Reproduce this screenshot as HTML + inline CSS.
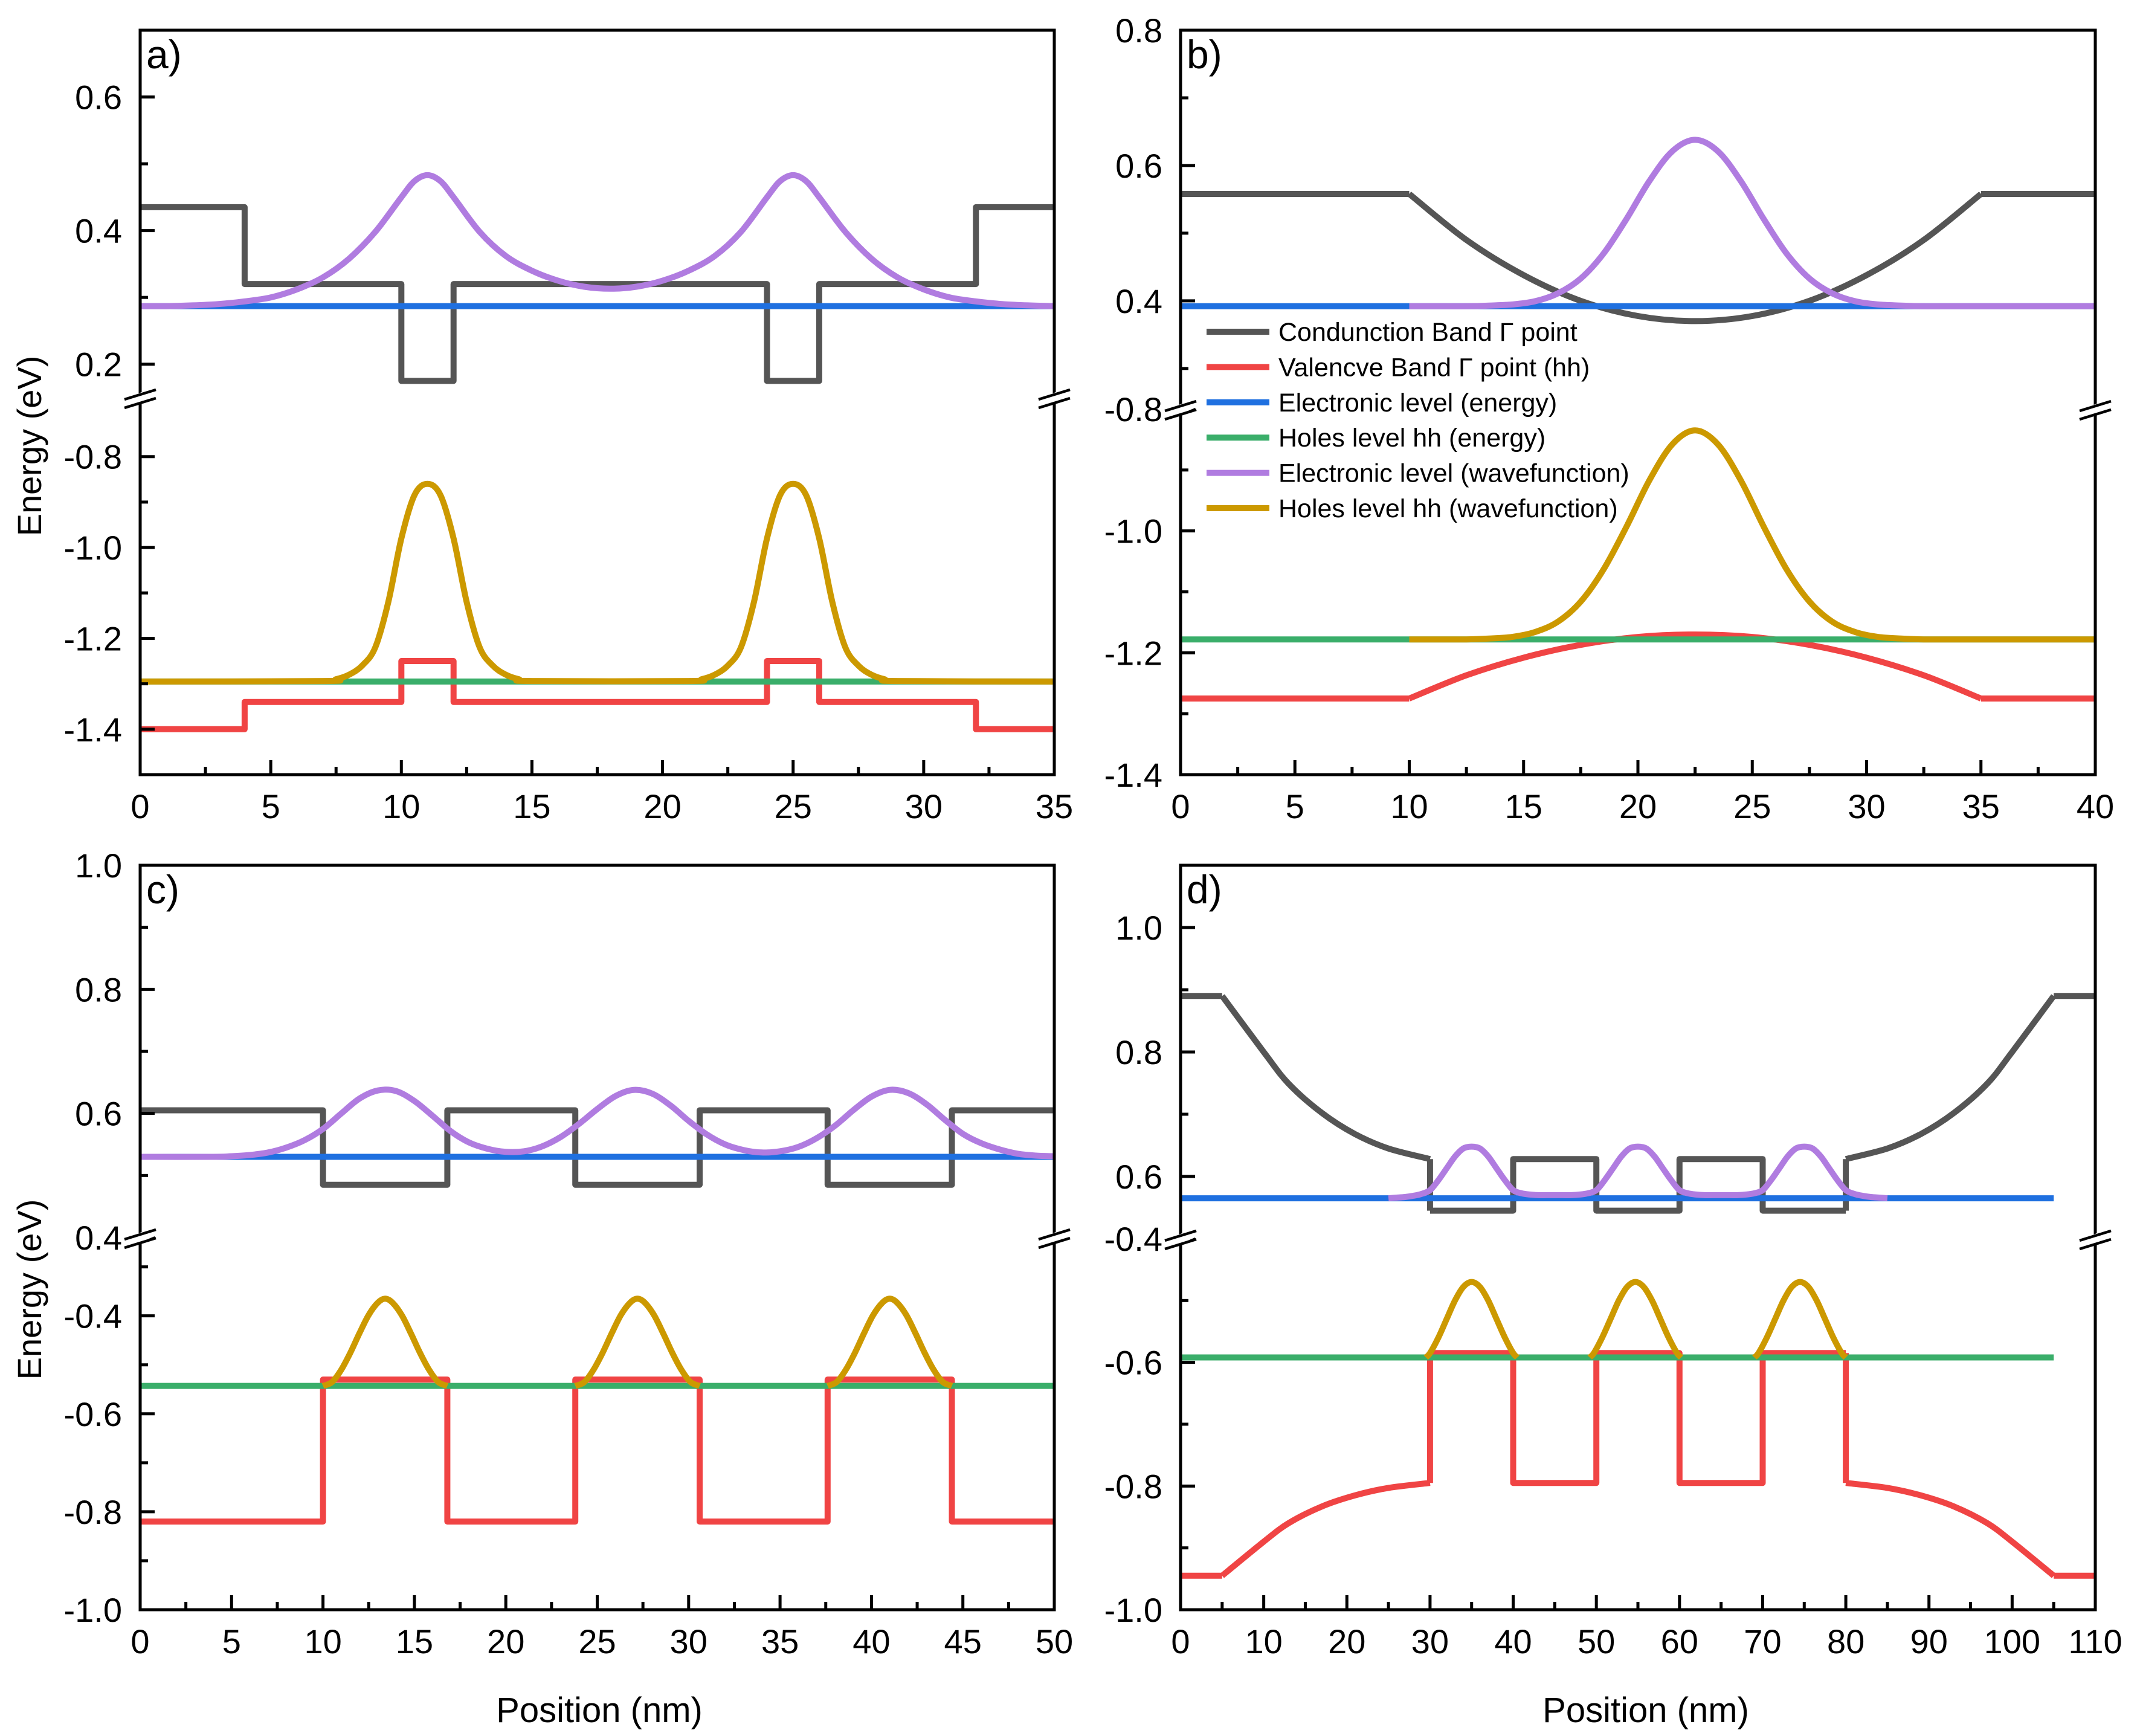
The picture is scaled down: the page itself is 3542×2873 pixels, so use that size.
<!DOCTYPE html>
<html><head><meta charset="utf-8">
<style>
html,body{margin:0;padding:0;background:#fff;}
svg{display:block;font-family:"Liberation Sans",Arial,sans-serif;}
</style></head>
<body>
<svg id="fig" width="3542" height="2873" viewBox="0 0 3542 2873" xmlns="http://www.w3.org/2000/svg">
<rect width="3542" height="2873" fill="#fff"/>
<text x="0" y="0" font-size="56" text-anchor="middle" transform="translate(68,738) rotate(-90)">Energy (eV)</text>
<text x="0" y="0" font-size="56" text-anchor="middle" transform="translate(68,2134) rotate(-90)">Energy (eV)</text>
<text x="992" y="2850" font-size="58" text-anchor="middle">Position (nm)</text>
<text x="2724" y="2850" font-size="58" text-anchor="middle">Position (nm)</text>
</svg>
<script>
// ---------- Panel a data ----------
const aCbEdges=[0,4,10,12,24,26,32,35];
const aCbLevels=[0.435,0.32,0.175,0.32,0.175,0.32,0.435];
const aVbEdges=[0,4,10,12,24,26,32,35];
const aVbLevels=[-1.40,-1.34,-1.25,-1.34,-1.25,-1.34,-1.40];
const aElecLevel=0.287;
const aHoleLevel=-1.295;
const aElecWaveX=[0,1,2,3,4,5,6,7,8,9,10,10.5,11,11.5,12,13,14,15,16,17,18,19,20,21,22,23,24,24.5,25,25.5,26,27,28,29,30,31,32,33,34,35];
const aElecWaveY=[0.287,0.287,0.288,0.290,0.294,0.300,0.312,0.330,0.358,0.398,0.450,0.474,0.483,0.474,0.450,0.398,0.362,0.340,0.325,0.316,0.313,0.316,0.325,0.340,0.362,0.398,0.450,0.474,0.483,0.474,0.450,0.398,0.358,0.330,0.312,0.300,0.294,0.290,0.288,0.287];
const aHoleWaveX=[0,7,7.5,8,8.5,9,9.5,10,10.5,11,11.5,12,12.5,13,13.5,14,14.5,15,21,21.5,22,22.5,23,23.5,24,24.5,25,25.5,26,26.5,27,27.5,28,28.5,29,35];
const aHoleWaveY=[-1.295,-1.294,-1.29,-1.28,-1.26,-1.22,-1.12,-0.98,-0.885,-0.86,-0.885,-0.98,-1.12,-1.22,-1.26,-1.28,-1.29,-1.294,-1.294,-1.29,-1.28,-1.26,-1.22,-1.12,-0.98,-0.885,-0.86,-0.885,-0.98,-1.12,-1.22,-1.26,-1.28,-1.29,-1.294,-1.295];
// ---------- Panel b data ----------
const bFlatLeftEnd=10;
const bFlatRightStart=35;
const bCbX=[10,12.5,15,17.5,20,22.5,25,27.5,30,32.5,35];
const bCbY=[0.558,0.490,0.438,0.400,0.3775,0.370,0.3775,0.400,0.438,0.490,0.558];
const bVbX=[10,12.5,15,17.5,20,22.5,25,27.5,30,32.5,35];
const bVbY=[-1.275,-1.237,-1.208,-1.187,-1.174,-1.170,-1.174,-1.187,-1.208,-1.237,-1.275];
const bElecLevel=0.392;
const bHoleLevel=-1.178;
const bElecWaveX=[10,11.5,12.5,13.5,14.5,15.5,16.5,17.5,18.5,19.5,20.5,21.5,22.5,23.5,24.5,25.5,26.5,27.5,28.5,29.5,30.5,31.5,32.5,33.5,40];
const bElecWaveY=[0.392,0.392,0.392,0.393,0.3946,0.3994,0.411,0.433,0.470,0.521,0.577,0.621,0.638,0.621,0.577,0.521,0.470,0.433,0.411,0.3994,0.3946,0.393,0.392,0.392,0.392];
const bHoleWaveX=[10,11.5,12.5,13.5,14.5,15.5,16.5,17.5,18.5,19.5,20.5,21.5,22.5,23.5,24.5,25.5,26.5,27.5,28.5,29.5,30.5,31.5,32.5,33.5,40];
const bHoleWaveY=[-1.178,-1.178,-1.178,-1.1766,-1.174,-1.166,-1.149,-1.116,-1.063,-0.993,-0.917,-0.858,-0.835,-0.858,-0.917,-0.993,-1.063,-1.116,-1.149,-1.166,-1.174,-1.1766,-1.178,-1.178,-1.178];
// ---------- Panel c data ----------
const cCbEdges=[0,10,16.8,23.8,30.6,37.6,44.4,50];
const cCbLevels=[0.605,0.485,0.605,0.485,0.605,0.485,0.605];
const cVbEdges=[0,10,16.8,23.8,30.6,37.6,44.4,50];
const cVbLevels=[-0.82,-0.53,-0.82,-0.53,-0.82,-0.53,-0.82];
const cElecLevel=0.530;
const cHoleLevel=-0.543;
const cElecWaveX=[0,4,5,6,7,8,9,10,11,12,13,14,15,16,17,18,19,20,21,22,23,24,25,26,27,28,29,30,31,32,33,34,35,36,37,38,39,40,41,42,43,44,45,46,47,48,49,50];
const cElecWaveY=[0.530,0.530,0.531,0.533,0.537,0.545,0.557,0.575,0.600,0.624,0.637,0.636,0.620,0.596,0.571,0.553,0.543,0.538,0.539,0.547,0.562,0.583,0.607,0.628,0.638,0.632,0.613,0.588,0.566,0.550,0.541,0.537,0.539,0.546,0.560,0.580,0.605,0.627,0.638,0.633,0.615,0.590,0.567,0.552,0.542,0.535,0.532,0.531];
const cHoleWaveX=[10,10.5,11,11.5,12,12.5,13,13.4,13.8,14.3,14.8,15.3,15.8,16.3,16.8,null,23.8,24.3,24.8,25.3,25.8,26.3,26.8,27.2,27.6,28.1,28.6,29.1,29.6,30.1,30.6,null,37.6,38.1,38.6,39.1,39.6,40.1,40.6,41.0,41.4,41.9,42.4,42.9,43.4,43.9,44.4];
const cHoleWaveY=[-0.543,-0.535,-0.51,-0.475,-0.435,-0.398,-0.373,-0.365,-0.373,-0.398,-0.435,-0.475,-0.51,-0.535,-0.543,null,-0.543,-0.535,-0.51,-0.475,-0.435,-0.398,-0.373,-0.365,-0.373,-0.398,-0.435,-0.475,-0.51,-0.535,-0.543,null,-0.543,-0.535,-0.51,-0.475,-0.435,-0.398,-0.373,-0.365,-0.373,-0.398,-0.435,-0.475,-0.51,-0.535,-0.543];
// ---------- Panel d data ----------
const dFlatLeftEnd=5;
const dFlatRightStart=105;
const dCbLeftX=[5,10,13,17,21,25,30];
const dCbLeftY=[0.89,0.80,0.749,0.702,0.668,0.645,0.628];
const dCbEdges=[30,40,50,60,70,80];
const dCbLevels=[0.545,0.628,0.545,0.628,0.545];
const dCbRightX=[80,85,89,93,97,100,105];
const dCbRightY=[0.628,0.645,0.668,0.702,0.749,0.80,0.89];
const dVbLeftX=[5,10,13,17,21,25,30];
const dVbLeftY=[-0.945,-0.89,-0.86,-0.833,-0.815,-0.803,-0.795];
const dVbEdges=[30,40,50,60,70,80];
const dVbLevels=[-0.585,-0.795,-0.585,-0.795,-0.585];
const dVbRightX=[80,85,89,93,97,100,105];
const dVbRightY=[-0.795,-0.803,-0.815,-0.833,-0.86,-0.89,-0.945];
const dElecLevel=0.565;
const dElecLevelEnd=105;
const dHoleLevel=-0.592;
const dHoleLevelEnd=105;
const dElecWaveX=[25,26,27,28,29,30,31,32,33,34,35,36,37,38,39,40,41,42,43,44,45,46,47,48,49,50,51,52,53,54,55,56,57,58,59,60,61,62,63,64,65,66,67,68,69,70,71,72,73,74,75,76,77,78,79,80,81,82,83,84,85];
const dElecWaveY=[0.565,0.566,0.567,0.569,0.572,0.578,0.594,0.613,0.632,0.645,0.648,0.645,0.632,0.613,0.594,0.578,0.573,0.571,0.570,0.570,0.570,0.570,0.570,0.571,0.573,0.578,0.594,0.613,0.632,0.645,0.648,0.645,0.632,0.613,0.594,0.578,0.573,0.571,0.570,0.570,0.570,0.570,0.570,0.571,0.573,0.578,0.594,0.613,0.632,0.645,0.648,0.645,0.632,0.613,0.594,0.578,0.572,0.569,0.567,0.566,0.565];
const dHoleWaveX=[29.5,30,31,32,33,34,35,36,37,38,39,40,40.5,null,49.2,49.7,50.7,51.7,52.7,53.7,54.7,55.7,56.7,57.7,58.7,59.7,60.2,null,69,69.5,70.5,71.5,72.5,73.5,74.5,75.5,76.5,77.5,78.5,79.5,80];
const dHoleWaveY=[-0.592,-0.585,-0.56,-0.53,-0.50,-0.478,-0.47,-0.478,-0.50,-0.53,-0.56,-0.585,-0.592,null,-0.592,-0.585,-0.56,-0.53,-0.50,-0.478,-0.47,-0.478,-0.50,-0.53,-0.56,-0.585,-0.592,null,-0.592,-0.585,-0.56,-0.53,-0.50,-0.478,-0.47,-0.478,-0.50,-0.53,-0.56,-0.585,-0.592];
// ---------- tick labels ----------
const aXTicks=[0,5,10,15,20,25,30,35];
const bXTicks=[0,5,10,15,20,25,30,35,40];
const cXTicks=[0,5,10,15,20,25,30,35,40,45,50];
const dXTicks=[0,10,20,30,40,50,60,70,80,90,100,110];
const legendLabels=["Condunction Band \u0393 point","Valencve Band \u0393 point (hh)","Electronic level (energy)","Holes level hh (energy)","Electronic level (wavefunction)","Holes level hh (wavefunction)"];

const COL={cb:"#555555",vb:"#f04444",el:"#1f70e0",hl:"#3aae6a",ew:"#b07ce0",hw:"#cc9900"};
const LW=10;
const NS="http://www.w3.org/2000/svg";
const svg=document.getElementById('fig');
function mk(tag,attrs,parent){const e=document.createElementNS(NS,tag);for(const k in attrs)e.setAttribute(k,attrs[k]);(parent||svg).appendChild(e);return e;}

const panels={
 a:{L:232,R:1745,T:50,B:1282,xmin:0,xmax:35,xt:aXTicks,xminor:2.5,label:"a)",
    up:{min:0.15,max:0.7,top:50,bot:658,maj:[0.2,0.4,0.6],mnr:[0.3,0.5]},
    lo:{min:-1.5,max:-0.67,top:658,bot:1282,maj:[-0.8,-1.0,-1.2,-1.4],mnr:[-0.9,-1.1,-1.3]}},
 b:{L:1954,R:3468,T:50,B:1282,xmin:0,xmax:40,xt:bXTicks,xminor:2.5,label:"b)",
    up:{min:0.24,max:0.8,top:50,bot:677,maj:[0.4,0.6,0.8],mnr:[0.3,0.5,0.7]},
    lo:{min:-1.4,max:-0.8,top:677,bot:1282,maj:[-0.8,-1.0,-1.2,-1.4],mnr:[-0.9,-1.1,-1.3]}},
 c:{L:232,R:1745,T:1432,B:2664,xmin:0,xmax:50,xt:cXTicks,xminor:2.5,label:"c)",
    up:{min:0.4,max:1.0,top:1432,bot:2048,maj:[0.4,0.6,0.8,1.0],mnr:[0.5,0.7,0.9]},
    lo:{min:-1.0,max:-0.24,top:2048,bot:2664,maj:[-0.4,-0.6,-0.8,-1.0],mnr:[-0.3,-0.5,-0.7,-0.9]}},
 d:{L:1954,R:3468,T:1432,B:2664,xmin:0,xmax:110,xt:dXTicks,xminor:5,label:"d)",
    up:{min:0.5,max:1.1,top:1432,bot:2050,maj:[0.6,0.8,1.0],mnr:[0.7,0.9]},
    lo:{min:-1.0,max:-0.4,top:2050,bot:2664,maj:[-0.4,-0.6,-0.8,-1.0],mnr:[-0.5,-0.7,-0.9]}}
};
function X(p,x){return p.L+(x-p.xmin)/(p.xmax-p.xmin)*(p.R-p.L);}
function Yseg(s,y){return s.bot-(y-s.min)/(s.max-s.min)*(s.bot-s.top);}
function Y(p,y){return y>=p.up.min?Yseg(p.up,y):Yseg(p.lo,y);}

function pathFromPts(pts,smooth){
  if(pts.length<2)return "";
  let d="M"+pts[0][0].toFixed(1)+","+pts[0][1].toFixed(1);
  if(!smooth){for(let i=1;i<pts.length;i++)d+="L"+pts[i][0].toFixed(1)+","+pts[i][1].toFixed(1);return d;}
  for(let i=0;i<pts.length-1;i++){
    const p0=pts[Math.max(0,i-1)],p1=pts[i],p2=pts[i+1],p3=pts[Math.min(pts.length-1,i+2)];
    const c1x=p1[0]+(p2[0]-p0[0])/6,c1y=p1[1]+(p2[1]-p0[1])/6;
    const c2x=p2[0]-(p3[0]-p1[0])/6,c2y=p2[1]-(p3[1]-p1[1])/6;
    d+="C"+c1x.toFixed(1)+","+c1y.toFixed(1)+" "+c2x.toFixed(1)+","+c2y.toFixed(1)+" "+p2[0].toFixed(1)+","+p2[1].toFixed(1);
  }
  return d;
}
function drawXY(g,p,xs,ys,color,smooth,name){
  let segs=[[]];
  for(let i=0;i<xs.length;i++){
    if(xs[i]===null){segs.push([]);continue;}
    segs[segs.length-1].push([X(p,xs[i]),Y(p,ys[i])]);
  }
  let d=segs.map(s=>pathFromPts(s,smooth)).join(" ");
  const e=mk('path',{d:d,fill:'none',stroke:color,'stroke-width':LW,'stroke-linejoin':'round','stroke-linecap':'butt'},g);
  
  
}
function drawStep(g,p,edges,levels,color,name){
  const xs=[],ys=[];
  for(let i=0;i<levels.length;i++){xs.push(edges[i],edges[i+1]);ys.push(levels[i],levels[i]);}
  drawXY(g,p,xs,ys,color,false,name);
}
function drawLevel(g,p,y,x0,x1,color,name){drawXY(g,p,[x0,x1],[y,y],color,false,name);}
function fmt(v){return (Math.round(v*10)/10).toFixed(1);}

function drawFrame(key){
  const p=panels[key];
  const g=mk('g',{});
  
  
  const cp=mk('clipPath',{id:'clip-'+key},g);
  mk('rect',{x:p.L,y:p.T,width:p.R-p.L,height:p.B-p.T},cp);
  const data=mk('g',{'clip-path':'url(#clip-'+key+')'},g);
  
  
  p.g=data;p.frame=g;
  return p;
}
function drawAxes(key){
  const p=panels[key],g=p.frame;
  const fr=mk('rect',{x:p.L,y:p.T,width:p.R-p.L,height:p.B-p.T,fill:'none',stroke:'#000','stroke-width':5},g);
  
  
  for(const t of p.xt){
    const x=X(p,t);
    mk('line',{x1:x,y1:p.B,x2:x,y2:p.B-24,stroke:'#000','stroke-width':5},g);
    const tx=mk('text',{x:x,y:p.B+72,'font-size':56,'text-anchor':'middle'},g);
    tx.textContent=String(t);
    
    
  }
  for(let t=p.xmin+p.xminor;t<p.xmax;t+=p.xminor){
    if(p.xt.indexOf(t)>=0)continue;
    const x=X(p,t);
    mk('line',{x1:x,y1:p.B,x2:x,y2:p.B-13,stroke:'#000','stroke-width':5},g);
  }
  for(const s of [p.up,p.lo]){
    for(const v of s.maj){
      const y=Yseg(s,v);
      mk('line',{x1:p.L,y1:y,x2:p.L+24,y2:y,stroke:'#000','stroke-width':5},g);
      const tx=mk('text',{x:p.L-30,y:y+20,'font-size':56,'text-anchor':'end'},g);
      tx.textContent=fmt(v);
      
      
    }
    for(const v of s.mnr){
      const y=Yseg(s,v);
      mk('line',{x1:p.L,y1:y,x2:p.L+13,y2:y,stroke:'#000','stroke-width':5},g);
    }
  }
  const by=p.up.bot;
  for(const ax of [p.L,p.R]){
    const bg=mk('g',{},g);
    
    
    mk('polygon',{points:(ax-24)+","+(by+2)+" "+(ax+24)+","+(by-18)+" "+(ax+24)+","+(by-2)+" "+(ax-24)+","+(by+18),fill:'#fff'},bg);
    mk('line',{x1:ax-26,y1:by+3,x2:ax+26,y2:by-13,stroke:'#000','stroke-width':4.5},bg);
    mk('line',{x1:ax-26,y1:by+17,x2:ax+26,y2:by+1,stroke:'#000','stroke-width':4.5},bg);
  }
  const lb=mk('text',{x:p.L+10,y:p.T+63,'font-size':66},g);
  lb.textContent=p.label;
  
  
}

// Panel a
let p=drawFrame('a');
drawStep(p.g,p,aCbEdges,aCbLevels,COL.cb,'conduction-band-a');
drawStep(p.g,p,aVbEdges,aVbLevels,COL.vb,'valence-band-a');
drawLevel(p.g,p,aElecLevel,0,35,COL.el,'electron-level-a');
drawLevel(p.g,p,aHoleLevel,0,35,COL.hl,'hole-level-a');
drawXY(p.g,p,aElecWaveX,aElecWaveY,COL.ew,true,'electron-wavefunction-a');
drawXY(p.g,p,aHoleWaveX,aHoleWaveY,COL.hw,true,'hole-wavefunction-a');
drawAxes('a');
// Panel b
p=drawFrame('b');
drawLevel(p.g,p,bCbY[0],0,bFlatLeftEnd,COL.cb,'conduction-band-b-flat-left');
drawXY(p.g,p,bCbX,bCbY,COL.cb,true,'conduction-band-b');
drawLevel(p.g,p,bCbY[bCbY.length-1],bFlatRightStart,40,COL.cb,'conduction-band-b-flat-right');
drawLevel(p.g,p,bVbY[0],0,bFlatLeftEnd,COL.vb,'valence-band-b-flat-left');
drawXY(p.g,p,bVbX,bVbY,COL.vb,true,'valence-band-b');
drawLevel(p.g,p,bVbY[bVbY.length-1],bFlatRightStart,40,COL.vb,'valence-band-b-flat-right');
drawLevel(p.g,p,bElecLevel,0,40,COL.el,'electron-level-b');
drawLevel(p.g,p,bHoleLevel,0,40,COL.hl,'hole-level-b');
drawXY(p.g,p,bElecWaveX,bElecWaveY,COL.ew,true,'electron-wavefunction-b');
drawXY(p.g,p,bHoleWaveX,bHoleWaveY,COL.hw,true,'hole-wavefunction-b');
drawAxes('b');
// Panel c
p=drawFrame('c');
drawStep(p.g,p,cCbEdges,cCbLevels,COL.cb,'conduction-band-c');
drawStep(p.g,p,cVbEdges,cVbLevels,COL.vb,'valence-band-c');
drawLevel(p.g,p,cElecLevel,0,50,COL.el,'electron-level-c');
drawLevel(p.g,p,cHoleLevel,0,50,COL.hl,'hole-level-c');
drawXY(p.g,p,cElecWaveX,cElecWaveY,COL.ew,true,'electron-wavefunction-c');
drawXY(p.g,p,cHoleWaveX,cHoleWaveY,COL.hw,true,'hole-wavefunction-c');
drawAxes('c');
// Panel d
p=drawFrame('d');
drawLevel(p.g,p,dCbLeftY[0],0,dFlatLeftEnd,COL.cb,'conduction-band-d-flat-left');
drawXY(p.g,p,dCbLeftX,dCbLeftY,COL.cb,true,'conduction-band-d-left');
drawXY(p.g,p,[30,30],[dCbLeftY[dCbLeftY.length-1],dCbLevels[0]],COL.cb,false,'conduction-band-d-step-left');
drawStep(p.g,p,dCbEdges,dCbLevels,COL.cb,'conduction-band-d-wells');
drawXY(p.g,p,[80,80],[dCbLevels[dCbLevels.length-1],dCbRightY[0]],COL.cb,false,'conduction-band-d-step-right');
drawXY(p.g,p,dCbRightX,dCbRightY,COL.cb,true,'conduction-band-d-right');
drawLevel(p.g,p,dCbRightY[dCbRightY.length-1],dFlatRightStart,110,COL.cb,'conduction-band-d-flat-right');
drawLevel(p.g,p,dVbLeftY[0],0,dFlatLeftEnd,COL.vb,'valence-band-d-flat-left');
drawXY(p.g,p,dVbLeftX,dVbLeftY,COL.vb,true,'valence-band-d-left');
drawXY(p.g,p,[30,30],[dVbLeftY[dVbLeftY.length-1],dVbLevels[0]],COL.vb,false,'valence-band-d-step-left');
drawStep(p.g,p,dVbEdges,dVbLevels,COL.vb,'valence-band-d-wells');
drawXY(p.g,p,[80,80],[dVbLevels[dVbLevels.length-1],dVbRightY[0]],COL.vb,false,'valence-band-d-step-right');
drawXY(p.g,p,dVbRightX,dVbRightY,COL.vb,true,'valence-band-d-right');
drawLevel(p.g,p,dVbRightY[dVbRightY.length-1],dFlatRightStart,110,COL.vb,'valence-band-d-flat-right');
drawLevel(p.g,p,dElecLevel,0,dElecLevelEnd,COL.el,'electron-level-d');
drawLevel(p.g,p,dHoleLevel,0,dHoleLevelEnd,COL.hl,'hole-level-d');
drawXY(p.g,p,dElecWaveX,dElecWaveY,COL.ew,true,'electron-wavefunction-d');
drawXY(p.g,p,dHoleWaveX,dHoleWaveY,COL.hw,true,'hole-wavefunction-d');
drawAxes('d');

// Legend (panel b)
const lg=mk('g',{});


const lcols=[COL.cb,COL.vb,COL.el,COL.hl,COL.ew,COL.hw];
for(let i=0;i<legendLabels.length;i++){
  const y=549+i*58.4;
  const e=mk('g',{},lg);
  
  
  mk('line',{x1:1997,y1:y,x2:2101,y2:y,stroke:lcols[i],'stroke-width':LW},e);
  const t=mk('text',{x:2116,y:y+15,'font-size':43},e);
  t.textContent=legendLabels[i];
}
</script>
</body></html>
